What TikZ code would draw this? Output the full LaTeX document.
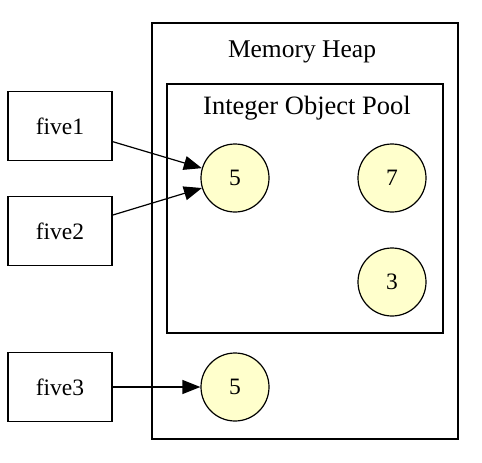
\documentclass[tikz,border=0pt]{standalone}
\usepackage{fontspec}
\setmainfont{Liberation Serif}
\usetikzlibrary{arrows.meta}

\definecolor{jaune}{HTML}{FFFFCC}
\tikzset{
  ref/.style={draw, line width=1.2pt, minimum width=104pt, minimum height=69pt, inner sep=0pt},
  entier/.style={draw, circle, line width=1.2pt, fill=jaune, minimum size=68pt, inner sep=0pt},
  zone/.style={draw, line width=1.2pt},
  titre/.style={inner sep=0pt, anchor=base},
}

\begin{document}
\begin{tikzpicture}[x=1pt, y=-1pt, >={Triangle[length=18pt, width=14pt]}, font=\fontsize{23.5}{26}\selectfont]
   \useasboundingbox (0, 0) rectangle (482, 463) ;
   % le tas et le pool
   \draw[zone] (152, 23) rectangle (458, 439) ;
   \node[titre, font=\fontsize{25.5}{28}\selectfont] (tas) at (302, 57) {Memory Heap} ;
   \draw[zone] (167, 84) rectangle (443, 333) ;
   \node[titre, font=\fontsize{26.5}{29}\selectfont] (pool) at (307, 114) {Integer Object Pool} ;
   % les objets
   \node[entier] (cinqA) at (235, 178) {5} ;
   \node[entier] (sept) at (392, 178) {7} ;
   \node[entier] (trois) at (392, 282) {3} ;
   \node[entier] (cinqB) at (235, 387) {5} ;
   % les references
   \node[ref] (five1) at (60, 126) {five1} ;
   \node[ref] (five2) at (60, 231) {five2} ;
   \node[ref] (five3) at (60, 387) {five3} ;
   \draw[->, line width=1.2pt] (five1) -- (cinqA) ;
   \draw[->, line width=1.2pt] (five2) -- (cinqA) ;
   \draw[->, line width=1.2pt] (five3) -- (cinqB) ;
\end{tikzpicture}
\end{document}
